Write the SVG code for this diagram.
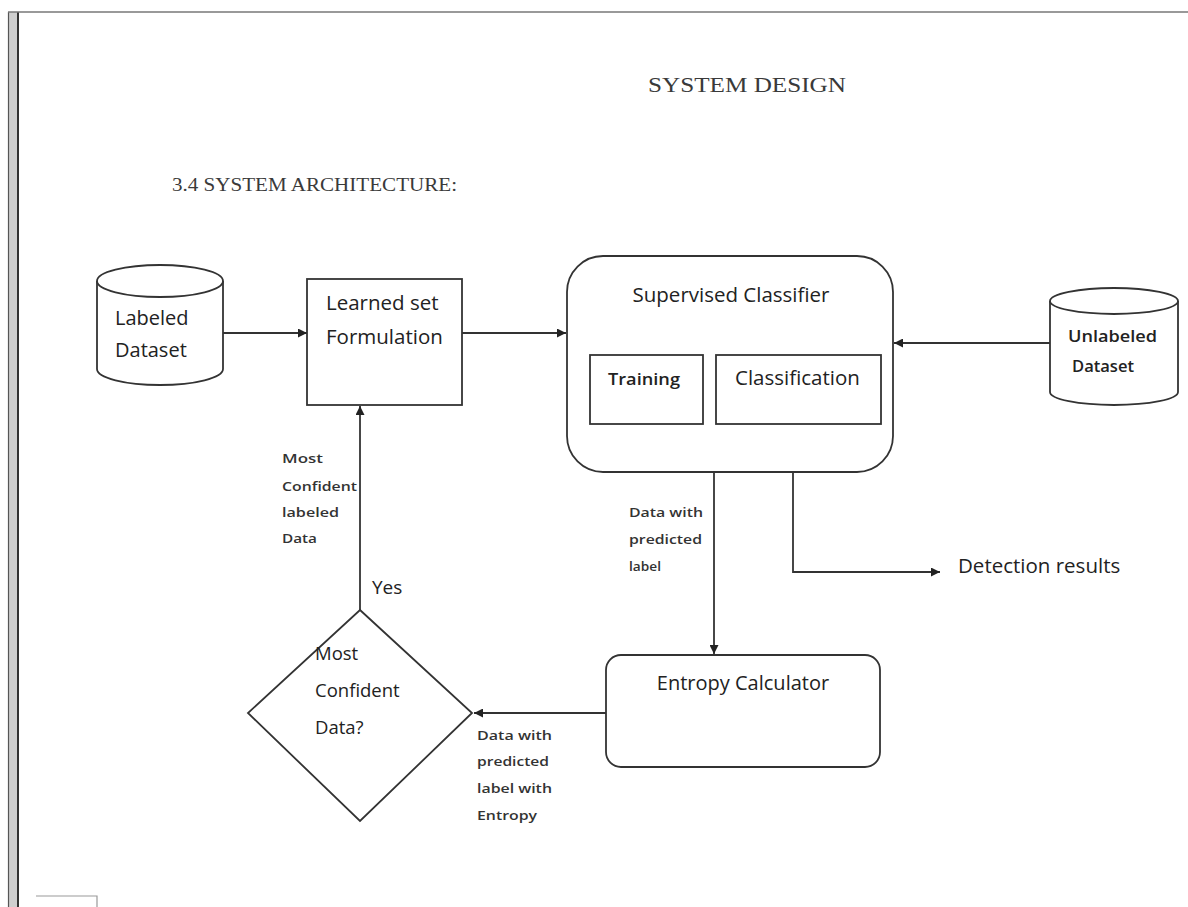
<svg xmlns="http://www.w3.org/2000/svg" width="1188" height="907" viewBox="0 0 1188 907">
<style>
.sh{fill:#fff;stroke:#333;stroke-width:1.8}
.t{font-family:"Open Sans","Noto Sans",sans-serif;fill:#222}
.s{font-family:"Open Sans","Noto Sans",sans-serif;fill:#333;font-size:13px;font-weight:600}
.h{font-family:"Liberation Serif",serif;fill:#3a3a3a}
.c{fill:none;stroke:#333;stroke-width:1.8}
</style>
<defs>
<marker id="ah" viewBox="0 0 10 10" refX="10" refY="5" markerWidth="5" markerHeight="5" orient="auto" markerUnits="strokeWidth">
<path d="M0,0 L10,5 L0,10 z" fill="#222"/>
</marker>
</defs>
<rect width="1188" height="907" fill="#fff"/>
<g id="page">
<rect x="9" y="12" width="9" height="895" fill="#cfcfcf"/>
<line x1="8.5" y1="12" x2="8.5" y2="907" stroke="#555" stroke-width="1.2"/>
<line x1="18" y1="12" x2="18" y2="907" stroke="#333" stroke-width="2"/>
<line x1="8" y1="12" x2="1188" y2="12" stroke="#777" stroke-width="1.6"/>
<path d="M36,896 L97,896 L97,907" fill="none" stroke="#999" stroke-width="1.2"/>
</g>
<g id="titles">
<text class="h" x="648" y="92" font-size="22" textLength="198" lengthAdjust="spacingAndGlyphs">SYSTEM DESIGN</text>
<text class="h" x="172" y="191" font-size="19" textLength="285" lengthAdjust="spacingAndGlyphs">3.4 SYSTEM ARCHITECTURE:</text>
</g>
<g id="connectors">
<line class="c" x1="223" y1="333" x2="307" y2="333" marker-end="url(#ah)"/>
<line class="c" x1="462" y1="333" x2="566" y2="333" marker-end="url(#ah)"/>
<line class="c" x1="1050" y1="343" x2="894" y2="343" stroke-width="2.6" marker-end="url(#ah)"/>
<line class="c" x1="714" y1="472" x2="714" y2="654" marker-end="url(#ah)"/>
<polyline class="c" points="793,472 793,572 940,572" marker-end="url(#ah)"/>
<line class="c" x1="606" y1="713" x2="474" y2="713" marker-end="url(#ah)"/>
<line class="c" x1="360" y1="610" x2="360" y2="406" stroke="#666" marker-end="url(#ah)"/>
</g>
<g id="labeled-dataset">
<path class="sh" d="M97,281 L97,369 A63,16 0 0 0 223,369 L223,281"/>
<ellipse class="sh" cx="160" cy="281" rx="63" ry="16"/>
<text class="t" x="115" y="325" font-size="20">Labeled</text>
<text class="t" x="115" y="357" font-size="20">Dataset</text>
</g>
<g id="learned-set">
<rect class="sh" x="307" y="279" width="155" height="126" stroke-width="2.2"/>
<text class="t" x="326" y="310" font-size="20.5">Learned set</text>
<text class="t" x="326" y="344" font-size="20.5">Formulation</text>
</g>
<g id="supervised-classifier">
<rect class="sh" x="567" y="256" width="326" height="216" rx="36" ry="36" stroke="#555"/>
<text class="t" x="731" y="302" font-size="20.5" text-anchor="middle">Supervised Classifier</text>
</g>
<g id="training">
<rect class="sh" x="590" y="355" width="113" height="69"/>
<text class="t" x="608" y="385" font-size="16" font-weight="600" textLength="72" lengthAdjust="spacingAndGlyphs">Training</text>
</g>
<g id="classification">
<rect class="sh" x="716" y="355" width="165" height="69"/>
<text class="t" x="735" y="385" font-size="20.5">Classification</text>
</g>
<g id="unlabeled-dataset">
<path class="sh" d="M1050,301 L1050,392 A64,13 0 0 0 1178,392 L1178,301"/>
<ellipse class="sh" cx="1114" cy="301" rx="64" ry="13"/>
<text class="t" x="1068" y="342" font-size="16" font-weight="600" fill="#333" textLength="89" lengthAdjust="spacingAndGlyphs">Unlabeled</text>
<text class="t" x="1072" y="372" font-size="16" font-weight="600" fill="#333" textLength="62" lengthAdjust="spacingAndGlyphs">Dataset</text>
</g>
<g id="detection-results">
<text class="t" x="958" y="573" font-size="20.5">Detection results</text>
</g>
<g id="entropy-calculator">
<rect class="sh" x="606" y="655" width="274" height="112" rx="15" ry="15"/>
<text class="t" x="743" y="690" font-size="20" text-anchor="middle">Entropy Calculator</text>
</g>
<g id="decision">
<polygon class="sh" points="360,610 472,713 360,821 248,713"/>
<text class="t" x="315" y="660" font-size="18.5">Most</text>
<text class="t" x="315" y="697" font-size="18.5">Confident</text>
<text class="t" x="315" y="734" font-size="18.5">Data?</text>
</g>
<g id="edge-labels">
<text class="s" x="282" y="463" textLength="41" lengthAdjust="spacingAndGlyphs">Most</text>
<text class="s" x="282" y="491" textLength="75" lengthAdjust="spacingAndGlyphs">Confident</text>
<text class="s" x="282" y="517" textLength="57" lengthAdjust="spacingAndGlyphs">labeled</text>
<text class="s" x="282" y="543" textLength="35" lengthAdjust="spacingAndGlyphs">Data</text>
<text class="t" x="372" y="594" font-size="19">Yes</text>
<text class="s" x="629" y="517" textLength="74" lengthAdjust="spacingAndGlyphs">Data with</text>
<text class="s" x="629" y="544" textLength="73" lengthAdjust="spacingAndGlyphs">predicted</text>
<text class="s" x="629" y="571" textLength="32" lengthAdjust="spacingAndGlyphs">label</text>
<text class="s" x="477" y="740" textLength="75" lengthAdjust="spacingAndGlyphs">Data with</text>
<text class="s" x="477" y="766" textLength="72" lengthAdjust="spacingAndGlyphs">predicted</text>
<text class="s" x="477" y="793" textLength="75" lengthAdjust="spacingAndGlyphs">label with</text>
<text class="s" x="477" y="820" textLength="60" lengthAdjust="spacingAndGlyphs">Entropy</text>
</g>
</svg>
